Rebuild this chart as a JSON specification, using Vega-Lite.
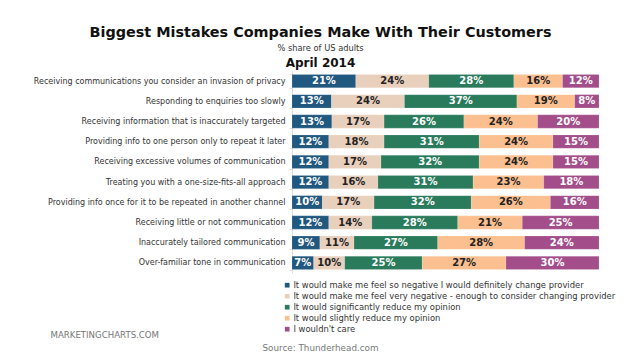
{
  "$schema": "https://vega.github.io/schema/vega-lite/v6.json",
  "width": 307,
  "height": 202,
  "autosize": {"type": "none"},
  "padding": {"left": 292, "top": 71, "right": 41, "bottom": 86},
  "background": "white",
  "config": {"view": {"stroke": null}, "font": "DejaVu Sans"},
  "title": {
    "text": "Biggest Mistakes Companies Make With Their Customers",
    "subtitle": "% share of US adults",
    "anchor": "middle",
    "frame": "group",
    "dx": -125,
    "offset": 3,
    "font": "DejaVu Sans",
    "fontSize": 14.4,
    "fontWeight": "bold",
    "color": "#111111",
    "subtitleFont": "DejaVu Sans",
    "subtitleFontSize": 8.3,
    "subtitleColor": "#333333",
    "subtitlePadding": 3
  },
  "datasets": {
    "cats": [
      {"k": 1, "cat": "It would make me feel so negative I would definitely change provider"},
      {"k": 2, "cat": "It would make me feel very negative - enough to consider changing provider"},
      {"k": 3, "cat": "It would significantly reduce my opinion"},
      {"k": 4, "cat": "It would slightly reduce my opinion"},
      {"k": 5, "cat": "I wouldn't care"}
    ]
  },
  "data": {
    "values": [
      {"item": "Receiving communications you consider an invasion of privacy", "k": 1, "v": 21},
      {"item": "Receiving communications you consider an invasion of privacy", "k": 2, "v": 24},
      {"item": "Receiving communications you consider an invasion of privacy", "k": 3, "v": 28},
      {"item": "Receiving communications you consider an invasion of privacy", "k": 4, "v": 16},
      {"item": "Receiving communications you consider an invasion of privacy", "k": 5, "v": 12},
      {"item": "Responding to enquiries too slowly", "k": 1, "v": 13},
      {"item": "Responding to enquiries too slowly", "k": 2, "v": 24},
      {"item": "Responding to enquiries too slowly", "k": 3, "v": 37},
      {"item": "Responding to enquiries too slowly", "k": 4, "v": 19},
      {"item": "Responding to enquiries too slowly", "k": 5, "v": 8},
      {"item": "Receiving information that is inaccurately targeted", "k": 1, "v": 13},
      {"item": "Receiving information that is inaccurately targeted", "k": 2, "v": 17},
      {"item": "Receiving information that is inaccurately targeted", "k": 3, "v": 26},
      {"item": "Receiving information that is inaccurately targeted", "k": 4, "v": 24},
      {"item": "Receiving information that is inaccurately targeted", "k": 5, "v": 20},
      {"item": "Providing info to one person only to repeat it later", "k": 1, "v": 12},
      {"item": "Providing info to one person only to repeat it later", "k": 2, "v": 18},
      {"item": "Providing info to one person only to repeat it later", "k": 3, "v": 31},
      {"item": "Providing info to one person only to repeat it later", "k": 4, "v": 24},
      {"item": "Providing info to one person only to repeat it later", "k": 5, "v": 15},
      {"item": "Receiving excessive volumes of communication", "k": 1, "v": 12},
      {"item": "Receiving excessive volumes of communication", "k": 2, "v": 17},
      {"item": "Receiving excessive volumes of communication", "k": 3, "v": 32},
      {"item": "Receiving excessive volumes of communication", "k": 4, "v": 24},
      {"item": "Receiving excessive volumes of communication", "k": 5, "v": 15},
      {"item": "Treating you with a one-size-fits-all approach", "k": 1, "v": 12},
      {"item": "Treating you with a one-size-fits-all approach", "k": 2, "v": 16},
      {"item": "Treating you with a one-size-fits-all approach", "k": 3, "v": 31},
      {"item": "Treating you with a one-size-fits-all approach", "k": 4, "v": 23},
      {"item": "Treating you with a one-size-fits-all approach", "k": 5, "v": 18},
      {"item": "Providing info once for it to be repeated in another channel", "k": 1, "v": 10},
      {"item": "Providing info once for it to be repeated in another channel", "k": 2, "v": 17},
      {"item": "Providing info once for it to be repeated in another channel", "k": 3, "v": 32},
      {"item": "Providing info once for it to be repeated in another channel", "k": 4, "v": 26},
      {"item": "Providing info once for it to be repeated in another channel", "k": 5, "v": 16},
      {"item": "Receiving little or not communication", "k": 1, "v": 12},
      {"item": "Receiving little or not communication", "k": 2, "v": 14},
      {"item": "Receiving little or not communication", "k": 3, "v": 28},
      {"item": "Receiving little or not communication", "k": 4, "v": 21},
      {"item": "Receiving little or not communication", "k": 5, "v": 25},
      {"item": "Inaccurately tailored communication", "k": 1, "v": 9},
      {"item": "Inaccurately tailored communication", "k": 2, "v": 11},
      {"item": "Inaccurately tailored communication", "k": 3, "v": 27},
      {"item": "Inaccurately tailored communication", "k": 4, "v": 28},
      {"item": "Inaccurately tailored communication", "k": 5, "v": 24},
      {"item": "Over-familiar tone in communication", "k": 1, "v": 7},
      {"item": "Over-familiar tone in communication", "k": 2, "v": 10},
      {"item": "Over-familiar tone in communication", "k": 3, "v": 25},
      {"item": "Over-familiar tone in communication", "k": 4, "v": 27},
      {"item": "Over-familiar tone in communication", "k": 5, "v": 30}
    ]
  },
  "transform": [
    {"lookup": "k", "from": {"data": {"name": "cats"}, "key": "k", "fields": ["cat"]}},
    {"stack": "v", "groupby": ["item"], "sort": [{"field": "k", "order": "ascending"}], "offset": "normalize", "as": ["v0", "v1"]},
    {"calculate": "(datum.v0 + datum.v1) / 2", "as": "mid"},
    {"calculate": "datum.v + '%'", "as": "lab"}
  ],
  "encoding": {
    "y": {
      "field": "item",
      "type": "nominal",
      "sort": null,
      "scale": {"paddingInner": 0.34, "paddingOuter": 0.17},
      "axis": {
        "title": "MARKETINGCHARTS.COM",
        "titleAngle": 0,
        "titleAlign": "left",
        "titleBaseline": "middle",
        "titleX": -242,
        "titleY": 263,
        "titleFont": "DejaVu Sans",
        "titleFontSize": 8.6,
        "titleFontWeight": "normal",
        "titleColor": "#777777",
        "labelFont": "DejaVu Sans",
        "labelFontSize": 8.0,
        "labelColor": "#333333",
        "labelPadding": 4,
        "labelLimit": 300,
        "domainColor": "#dddddd",
        "tickColor": "#dddddd",
        "tickSize": 3,
        "tickBand": "extent",
        "ticks": true
      }
    }
  },
  "layer": [
    {
      "mark": {"type": "bar", "stroke": "#ffffff", "strokeWidth": 0.3, "strokeOpacity": 0.5},
      "encoding": {
        "x": {
          "field": "v0",
          "type": "quantitative",
          "scale": {"domain": [0, 1]},
          "axis": {
            "orient": "bottom",
            "title": "Source: Thunderhead.com",
            "titleX": 28,
            "titleY": 74,
            "titleBaseline": "middle",
            "titleFont": "DejaVu Sans",
            "titleFontSize": 8.8,
            "titleFontWeight": "normal",
            "titleColor": "#777777",
            "labels": false,
            "ticks": false,
            "domain": false,
            "grid": false
          }
        },
        "x2": {"field": "v1"},
        "color": {
          "field": "cat",
          "type": "nominal",
          "sort": {"field": "k"},
          "scale": {
            "domain": [
              "It would make me feel so negative I would definitely change provider",
              "It would make me feel very negative - enough to consider changing provider",
              "It would significantly reduce my opinion",
              "It would slightly reduce my opinion",
              "I wouldn't care"
            ],
            "range": ["#21587f", "#e9d0bc", "#2a7b5c", "#fcbf8f", "#a34e8a"]
          },
          "legend": {
            "orient": "none",
            "legendX": -9,
            "legendY": 210,
            "title": null,
            "symbolType": "square",
            "symbolSize": 22,
            "symbolStrokeWidth": 0,
            "labelFont": "DejaVu Sans",
            "labelFontSize": 8.4,
            "labelColor": "#333333",
            "labelLimit": 400,
            "labelOffset": 2,
            "rowPadding": 2,
            "symbolOffset": 0,
            "padding": 0
          }
        }
      }
    },
    {
      "mark": {"type": "text", "fontWeight": "bold", "fontSize": 10, "font": "DejaVu Sans", "baseline": "middle"},
      "encoding": {
        "x": {
          "field": "mid",
          "type": "quantitative",
          "scale": {"domain": [0, 1]},
          "axis": {
            "orient": "top",
            "title": "April 2014",
            "titleX": 28,
            "titleY": -9,
            "titleBaseline": "middle",
            "titleFont": "DejaVu Sans",
            "titleFontSize": 12,
            "titleFontWeight": "bold",
            "titleColor": "#111111",
            "labels": false,
            "ticks": false,
            "domain": false,
            "grid": false
          }
        },
        "text": {"field": "lab"},
        "color": {
          "condition": {"test": "datum.k == 2 || datum.k == 4", "value": "#222222"},
          "value": "#ffffff"
        }
      }
    }
  ],
  "resolve": {"scale": {"x": "independent"}, "axis": {"x": "independent"}}
}
